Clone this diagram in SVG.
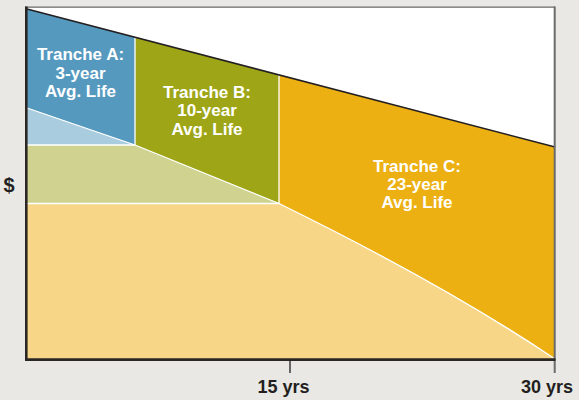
<svg xmlns="http://www.w3.org/2000/svg" width="579" height="400" viewBox="0 0 579 400">
<style>
.lbl{font-family:"Liberation Sans",Arial,sans-serif;font-weight:bold;font-size:17px;fill:#ffffff;text-anchor:middle}
.ax{font-family:"Liberation Sans",Arial,sans-serif;font-weight:bold;font-size:18px;fill:#231f20;text-anchor:middle}
.wl{stroke:#ffffff;stroke-width:1.3;fill:none}
</style>
<rect x="0" y="0" width="579" height="400" fill="#e9e8e4"/>
<rect x="27" y="8" width="528" height="351" fill="#ffffff"/>
<g id="tranche-a">
<polygon points="27,9 135,37.2 135,145 27,108" fill="#5599bf"/>
<polygon points="27,108 135,145 27,145" fill="#a9cddf"/>
</g>
<g id="tranche-b">
<polygon points="135,37.2 279,74.9 279,203.5 135,145" fill="#9ea617"/>
<polygon points="27,145 135,145 279,203.5 27,203.5" fill="#cfd38f"/>
</g>
<g id="tranche-c">
<path d="M279,74.9 L555,147 L555,359 Q445,285 279,203.5 Z" fill="#ecb012"/>
<path d="M27,203.5 L279,203.5 Q445,285 555,359 L27,359 Z" fill="#f7d787"/>
</g>
<g id="connectors">
<path class="wl" d="M27,108 L135,145 L279,203.5 Q445,285 555,359"/>
<path class="wl" d="M27,145 L135,145 M27,203.5 L279,203.5 M135,37.2 L135,145 M279,74.9 L279,203.5"/>
<line x1="27" y1="9" x2="555" y2="147" stroke="#231f20" stroke-width="1.6"/>
<line x1="25" y1="7.2" x2="555" y2="7.2" stroke="#6e6e6e" stroke-width="1.2"/>
<line x1="554.7" y1="6.6" x2="554.7" y2="373" stroke="#6b6b6b" stroke-width="2"/>
<line x1="26.3" y1="6.6" x2="26.3" y2="361" stroke="#2a2624" stroke-width="2.6"/>
<line x1="25" y1="359.7" x2="555.5" y2="359.7" stroke="#2a2624" stroke-width="2.7"/>
<line x1="290" y1="361" x2="290" y2="373" stroke="#3a3a3a" stroke-width="1.5"/>
</g>
<g id="labels">
<text class="lbl" x="80.5" y="60">Tranche A:</text>
<text class="lbl" x="80.5" y="78.7">3-year</text>
<text class="lbl" x="80.5" y="97.3">Avg. Life</text>
<text class="lbl" x="207" y="97.7">Tranche B:</text>
<text class="lbl" x="207" y="116.4">10-year</text>
<text class="lbl" x="207" y="135">Avg. Life</text>
<text class="lbl" x="417" y="171.7">Tranche C:</text>
<text class="lbl" x="417" y="190.3">23-year</text>
<text class="lbl" x="417" y="208.3">Avg. Life</text>
<text class="ax" x="9" y="192" style="font-size:20px">$</text>
<text class="ax" x="283.5" y="393">15 yrs</text>
<text class="ax" x="547" y="393">30 yrs</text>
</g>
</svg>
